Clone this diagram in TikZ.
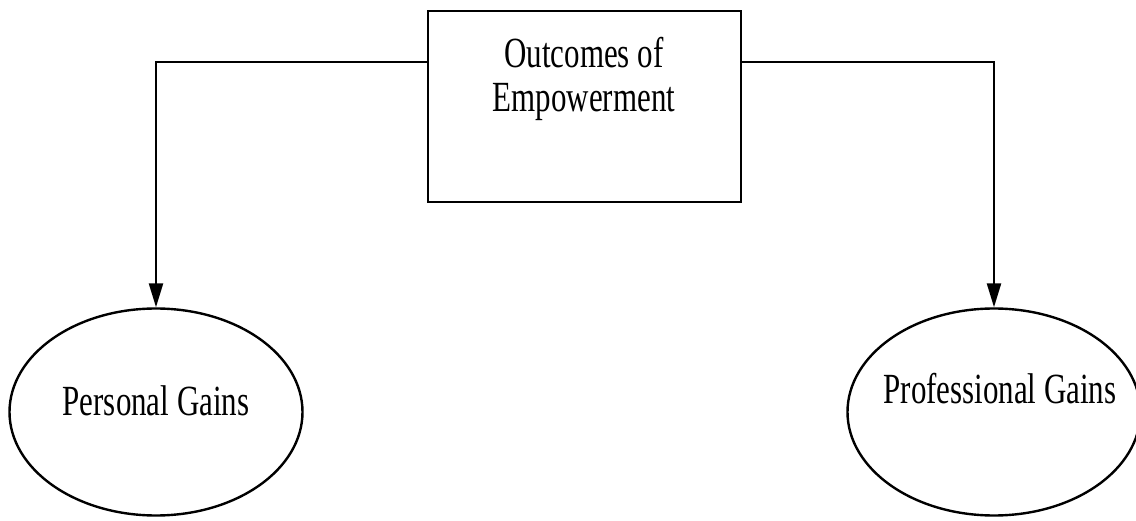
\documentclass[tikz,border=0pt]{standalone}
\usepackage{fontspec}
\setmainfont{Liberation Serif}[FakeStretch=0.72]
\usetikzlibrary{arrows.meta,shapes.geometric}
\begin{document}
\begin{tikzpicture}[x=1pt,y=1pt,
  every node/.style={inner sep=0pt},
  txt/.style={font=\fontsize{43}{44}\selectfont, align=center},
  box/.style={draw, line width=2.4pt, minimum width=313pt, minimum height=191pt},
  oval/.style={draw, ellipse, line width=2.4pt, minimum width=293pt, minimum height=207pt},
  conn/.style={line width=2.4pt, -{Triangle[width=14pt,length=24pt]}}]
  \useasboundingbox (0,0) rectangle (1136,520);
  % central box and its heading
  \node[box] (out) at (584.5,413.5) {};
  \node[txt, anchor=north] (outtxt) at (584,483) {Outcomes of\\Empowerment};
  % the two outcome ellipses
  \node[oval] (pers) at (156,108) {};
  \node[txt, anchor=base] (perstxt) at (156,104) {Personal Gains};
  \node[oval] (prof) at (994,108) {};
  \node[txt, anchor=base] (proftxt) at (1000,116) {Professional Gains};
  % branch lines leave the box at this height
  \coordinate (branch) at (0,458);
  \draw[conn] (out.west |- branch) -| (pers.north);
  \draw[conn] (out.east |- branch) -| (prof.north);
\end{tikzpicture}
\end{document}
